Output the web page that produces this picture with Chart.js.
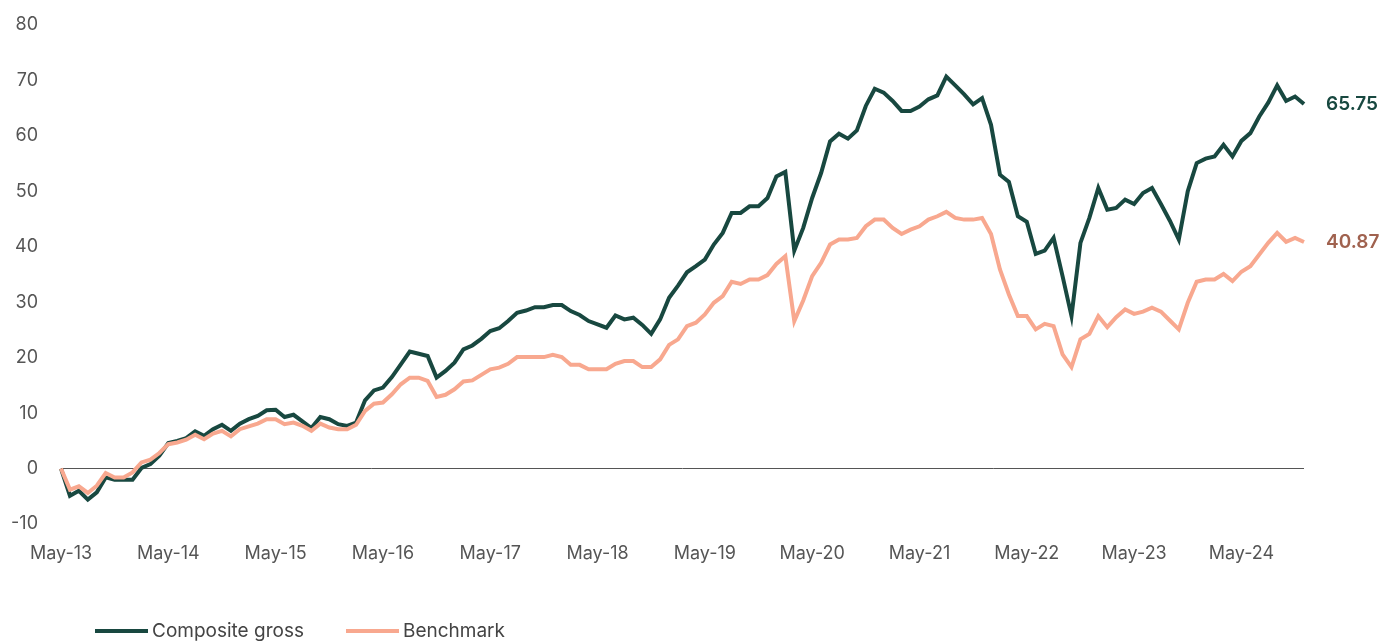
<!DOCTYPE html>
<html>
<head>
<meta charset="utf-8">
<script src="https://cdn.jsdelivr.net/npm/chart.js@4.4.1/dist/chart.umd.min.js"></script>
<style>
  body { margin: 0; background: #fff; font-family: Inter, sans-serif; }
  #wrap { position: relative; width: 1388px; height: 643px; }
  #legend { position: absolute; left: 95px; top: 619px; display: flex; font-size: 19px; color: #444; }
  .item { display: flex; align-items: center; margin-right: 42px; }
  .swatch { width: 53px; height: 4px; margin-right: 4px; }
</style>
</head>
<body>
<div id="wrap">
  <canvas id="myChart" width="1388" height="643"></canvas>
  <div id="legend"></div>
</div>
<script>
const monthNames = ["Jan", "Feb", "Mar", "Apr", "May", "Jun", "Jul", "Aug", "Sep", "Oct", "Nov", "Dec"];

// May-13 .. Dec-24, monthly
const labels = [];
for (let i = 0; i < 140; i++) {
    const m = (4 + i) % 12;
    const y = 13 + Math.floor((4 + i) / 12);
    labels.push(monthNames[m] + "-" + y);
}

const composite = [
    0, -4.9, -4.0, -5.6, -4.3, -1.6, -2.0, -2.0, -2.0, 0.1, 0.8, 2.3,
    4.6, 5.0, 5.5, 6.7, 5.9, 7.1, 7.9, 6.8, 8.1, 8.9, 9.5, 10.5,
    10.6, 9.3, 9.7, 8.5, 7.3, 9.3, 8.9, 8.0, 7.7, 8.3, 12.3, 14.1,
    14.6, 16.5, 18.8, 21.1, 20.7, 20.3, 16.4, 17.6, 19.1, 21.5, 22.2, 23.4,
    24.8, 25.3, 26.6, 28.1, 28.5, 29.1, 29.1, 29.5, 29.5, 28.4, 27.7, 26.6,
    26.0, 25.4, 27.6, 26.9, 27.2, 25.9, 24.3, 26.9, 30.8, 33.0, 35.4, 36.5,
    37.7, 40.4, 42.5, 46.1, 46.1, 47.3, 47.3, 48.8, 52.7, 53.5, 39.3, 43.4,
    48.8, 53.3, 59.0, 60.4, 59.5, 61.0, 65.4, 68.5, 67.8, 66.3, 64.5, 64.5,
    65.3, 66.6, 67.3, 70.7, 69.1, 67.5, 65.7, 66.8, 62.0, 53.0, 51.7, 45.5,
    44.5, 38.7, 39.3, 41.6, 34.7, 27.5, 40.7, 45.2, 50.6, 46.7, 47.0, 48.5,
    47.7, 49.7, 50.6, 47.7, 44.7, 41.3, 50.0, 55.1, 55.9, 56.3, 58.4, 56.3,
    59.1, 60.5, 63.5, 66.0, 69.1, 66.3, 67.1, 65.75
];

const benchmark = [
    0, -3.8, -3.2, -4.4, -3.1, -0.8, -1.6, -1.6, -0.7, 1.1, 1.6, 2.8,
    4.4, 4.7, 5.2, 6.1, 5.3, 6.3, 6.8, 5.8, 7.1, 7.6, 8.1, 8.9,
    8.9, 8.0, 8.3, 7.7, 6.8, 8.1, 7.4, 7.1, 7.1, 7.9, 10.4, 11.7,
    11.9, 13.4, 15.2, 16.4, 16.4, 15.8, 12.9, 13.3, 14.3, 15.7, 15.9, 16.9,
    17.9, 18.2, 18.9, 20.1, 20.1, 20.1, 20.1, 20.5, 20.1, 18.7, 18.7, 17.9,
    17.9, 17.9, 18.9, 19.4, 19.4, 18.3, 18.3, 19.7, 22.3, 23.3, 25.7, 26.3,
    27.8, 29.9, 31.1, 33.7, 33.3, 34.1, 34.1, 34.9, 36.9, 38.3, 26.6, 30.3,
    34.7, 37.1, 40.4, 41.3, 41.3, 41.6, 43.7, 44.9, 44.9, 43.4, 42.3, 43.1,
    43.7, 44.9, 45.5, 46.3, 45.2, 44.9, 44.9, 45.2, 42.3, 35.9, 31.4, 27.5,
    27.5, 25.1, 26.1, 25.7, 20.6, 18.3, 23.3, 24.3, 27.5, 25.5, 27.3, 28.7,
    27.9, 28.3, 29.0, 28.3, 26.7, 25.1, 29.9, 33.7, 34.1, 34.1, 35.1, 33.8,
    35.5, 36.5, 38.6, 40.7, 42.5, 40.9, 41.6, 40.87
];

const seriesNames = ["Composite gross", "Benchmark"];
const lineColors = ["#184840", "#f8a88f"];
const endLabelColors = ["#184840", "#a0624f"];

const endLabels = {
    id: "endLabels",
    afterDatasetsDraw(chart) {
        const ctx = chart.ctx;
        ctx.save();
        ctx.font = "600 19px Inter, sans-serif";
        ctx.textBaseline = "middle";
        ctx.textAlign = "left";
        chart.data.datasets.forEach((ds, i) => {
            const meta = chart.getDatasetMeta(i);
            const last = meta.data[meta.data.length - 1];
            ctx.fillStyle = ds.endColor;
            ctx.fillText(ds.data[ds.data.length - 1].toFixed(2), last.x + 22, last.y);
        });
        ctx.restore();
    }
};

const chartDOM = document.querySelector("#myChart");
const myChart = new Chart(chartDOM, {
    type: "line",
    data: {
        labels,
        datasets: [
            { label: seriesNames[0], data: composite, borderColor: lineColors[0], endColor: endLabelColors[0], order: 1 },
            { label: seriesNames[1], data: benchmark, borderColor: lineColors[1], endColor: endLabelColors[1], order: 0 }
        ]
    },
    options: {
        responsive: false,
        animation: false,
        layout: { autoPadding: false, padding: { top: 25, right: 84, bottom: 69, left: 0 } },
        elements: {
            line: { borderWidth: 4, tension: 0 },
            point: { radius: 0 }
        },
        plugins: {
            legend: { display: false },
            tooltip: { enabled: false }
        },
        scales: {
            x: {
                offset: false,
                grid: { display: false },
                border: { display: false },
                afterFit: (s) => { s.height = 50; s.paddingLeft = 0; s.paddingRight = 0; },
                ticks: {
                    autoSkip: false,
                    maxRotation: 0,
                    padding: 11,
                    color: "#555",
                    font: { family: "Inter", size: 18 },
                    callback: (v, i) => (i % 12 === 0 ? labels[i] : null)
                }
            },
            y: {
                min: -10,
                max: 80,
                afterFit: (s) => { s.width = 61; s.paddingTop = 0; s.paddingBottom = 0; },
                border: { display: false },
                grid: {
                    drawTicks: false,
                    color: (c) => (c.tick && c.tick.value === 0 ? "#555" : "transparent"),
                    lineWidth: 1
                },
                ticks: {
                    stepSize: 10,
                    padding: 23,
                    color: "#555",
                    font: { family: "Inter", size: 18 }
                }
            }
        }
    },
    plugins: [endLabels]
});

const legend = document.querySelector("#legend");
seriesNames.forEach((name, i) => {
    legend.innerHTML += `<div class="item"><span class="swatch" style="background:${lineColors[i]}"></span>${name}</div>`;
});
</script>
</body>
</html>
